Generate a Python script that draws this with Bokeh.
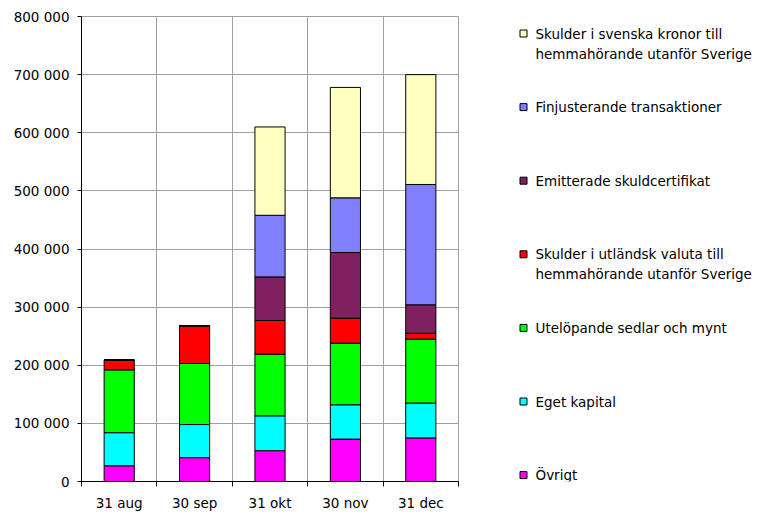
import numpy as np
from bokeh.plotting import figure
from bokeh.layouts import row
from bokeh.models import (ColumnDataSource, Range1d, FixedTicker, CustomJSTickFormatter)
from bokeh.core.properties import value
from bokeh.embed import file_html
from bokeh.resources import INLINE

categories = ["31 aug", "30 sep", "31 okt", "30 nov", "31 dec"]

ovrigt        = [27000, 41000, 53000, 73000, 75000]
eget_kapital  = [57000, 57000, 60000, 59000, 60000]
sedlar        = [108000, 105000, 106000, 106000, 110000]
utl_valuta    = [17000, 65000, 58000, 43000, 10000]
skuldcert     = [0, 0, 75000, 113000, 49000]
finjust       = [0, 0, 106000, 94000, 207000]
svenska_kr    = [0, 0, 152000, 190000, 189000]

series_names = [
    "Övrigt",
    "Eget kapital",
    "Utelöpande sedlar och mynt",
    "Skulder i utländsk valuta till\nhemmahörande utanför Sverige",
    "Emitterade skuldcertifikat",
    "Finjusterande transaktioner",
    "Skulder i svenska kronor till\nhemmahörande utanför Sverige",
]
series_keys = ["ovrigt", "eget", "sedlar", "utl", "cert", "finj", "sek"]
series_values = [ovrigt, eget_kapital, sedlar, utl_valuta, skuldcert, finjust, svenska_kr]
colors = ["#FF00FF", "#00FFFF", "#00FF00", "#FF0000", "#802060", "#8080FF", "#FFFFC0"]

y_ticks = list(range(0, 800001, 100000))

FONT = "DejaVu Sans"
FSIZE = "13.5px"
H = 513
TOP, BOTTOM = 16, 32

x_pos = np.arange(len(categories)) + 0.5
data = {"x": x_pos}
for k, v in zip(series_keys, series_values):
    data[k] = v
src = ColumnDataSource(data)

p = figure(width=470, height=H, output_backend="svg", toolbar_location=None,
           x_range=Range1d(0, len(categories)), y_range=Range1d(0, 800000),
           min_border_left=81, min_border_right=12, min_border_top=TOP, min_border_bottom=BOTTOM)
p.outline_line_color = "#A0A0A0"
p.outline_line_width = 1

p.vbar_stack(series_keys, x="x", width=0.4, source=src, fill_color=colors,
             line_color="black", line_width=1)

# x axis: labels at category centres, tick marks / grid at boundaries
p.xaxis.ticker = FixedTicker(ticks=list(x_pos), minor_ticks=list(range(len(categories) + 1)))
p.xaxis.major_label_overrides = {float(x): c for x, c in zip(x_pos, categories)}
p.xaxis.major_tick_out = 0
p.xaxis.major_tick_in = 0
p.xaxis.minor_tick_out = 5
p.xaxis.minor_tick_in = 0
p.xaxis.axis_line_color = "black"
p.xaxis.minor_tick_line_color = "black"
p.xaxis.major_label_standoff = 8
p.xgrid.grid_line_color = None
p.xgrid.minor_grid_line_color = "#A0A0A0"

p.yaxis.ticker = FixedTicker(ticks=y_ticks, minor_ticks=[])
p.yaxis.formatter = CustomJSTickFormatter(
    code="return Math.round(tick).toString().replace(/\\B(?=(\\d{3})+(?!\\d))/g, ' ');")
p.yaxis.major_tick_out = 4
p.yaxis.major_tick_in = 0
p.yaxis.minor_tick_out = 0
p.yaxis.axis_line_color = "black"
p.yaxis.major_tick_line_color = "black"
p.yaxis.major_label_standoff = 8
p.ygrid.grid_line_color = "#A0A0A0"

for ax in (p.xaxis, p.yaxis):
    ax.major_label_text_font = FONT
    ax.major_label_text_font_size = FSIZE
    ax.major_label_text_color = "black"

# legend as its own panel; its frame is aligned with the chart frame,
# so map the range to page pixel rows
lw = 290
lg = figure(width=lw, height=H, output_backend="svg", toolbar_location=None,
            x_range=Range1d(0, lw), y_range=Range1d(H - BOTTOM, TOP),
            x_axis_type=None, y_axis_type=None,
            min_border_left=0, min_border_right=0, min_border_top=TOP, min_border_bottom=BOTTOM,
            outline_line_color=None)
lg.grid.visible = False

n = len(series_names)
order = list(range(n))[::-1]
row_y = 33 + np.arange(n) * 73.6
LINE_STEP = 20

sq = ColumnDataSource({"y": row_y, "color": [colors[i] for i in order]})
lg.rect(x=53, y="y", width=7, height=7, fill_color="color", line_color="black",
        line_width=1, source=sq)

tx_y, tx = [], []
for r, i in enumerate(order):
    for j, line in enumerate(series_names[i].split("\n")):
        tx_y.append(row_y[r] + j * LINE_STEP)
        tx.append(line)
ts = ColumnDataSource({"y": tx_y, "label": tx})
lg.text(x=65, y="y", text="label", source=ts, text_font=value(FONT),
        text_font_size=FSIZE, text_baseline="middle", text_align="left",
        text_color="black")

layout = row(p, lg, spacing=0)
open("out.html", "w").write(file_html(layout, INLINE))
